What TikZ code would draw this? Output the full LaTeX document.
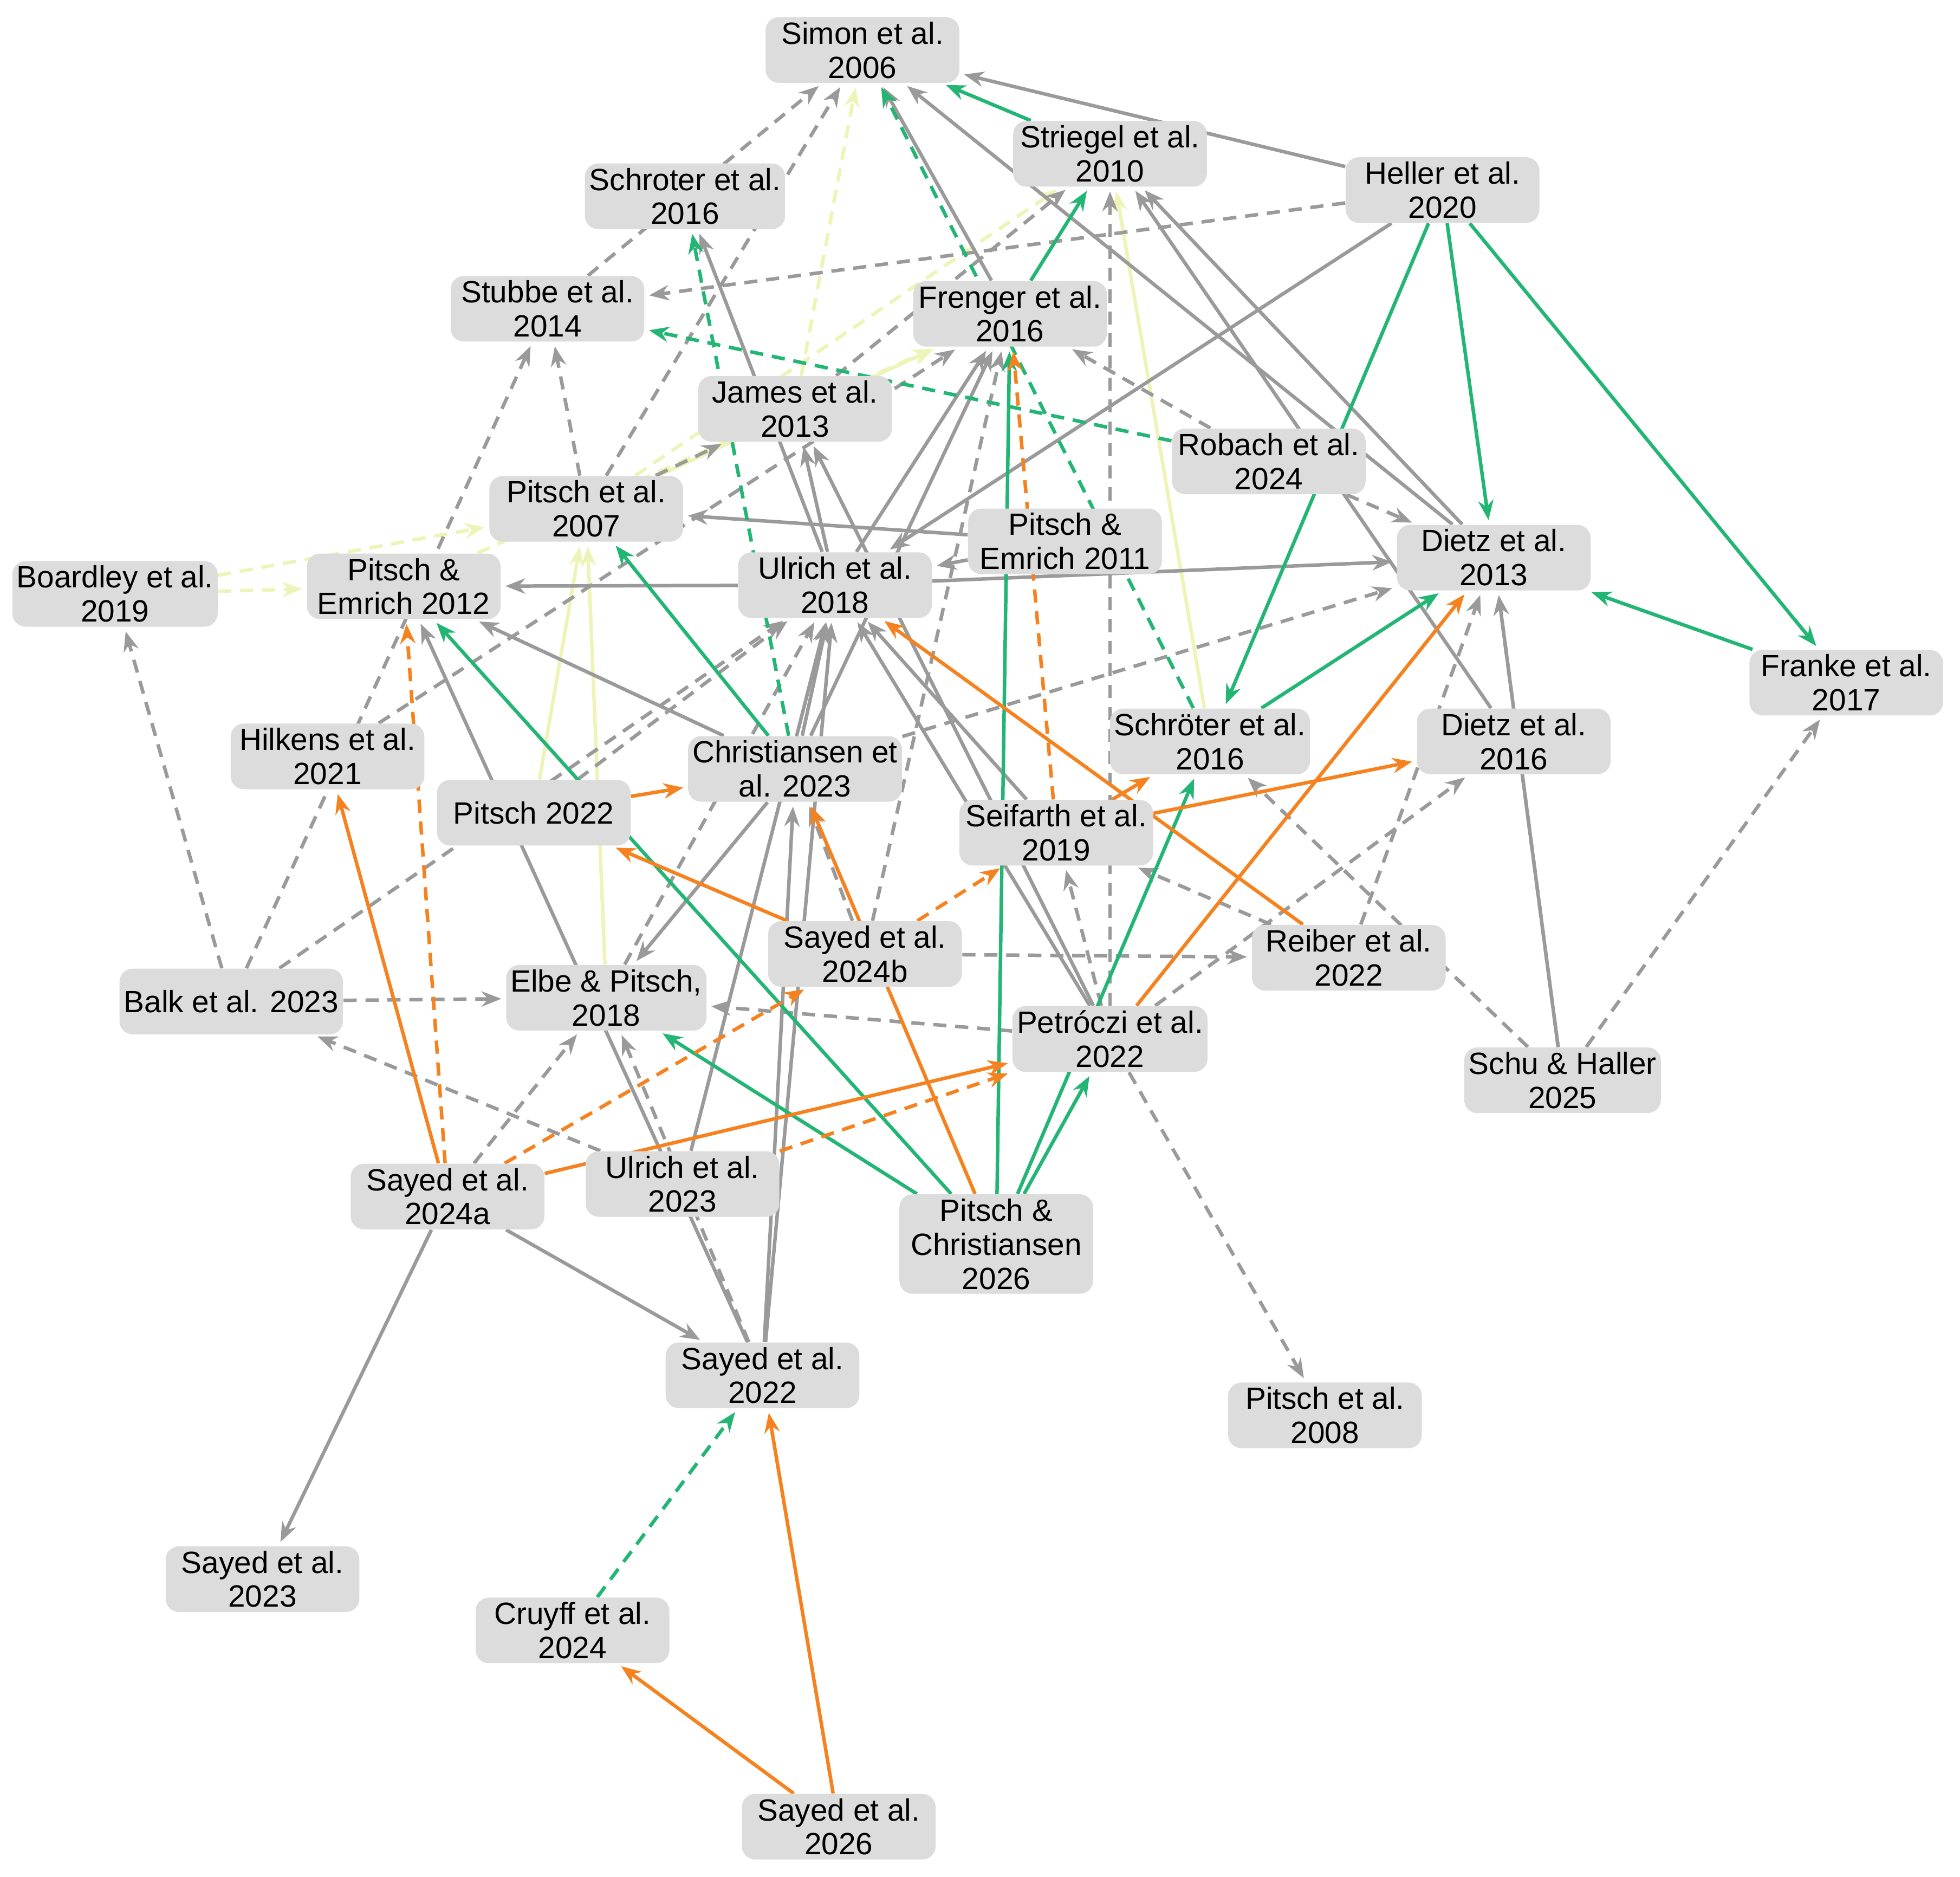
\documentclass[tikz,border=0pt]{standalone}
\usepackage{fontspec}
\setmainfont{Liberation Sans}
\usetikzlibrary{arrows.meta,backgrounds}
\definecolor{eg}{HTML}{9A9A9A}
\definecolor{en}{HTML}{22B573}
\definecolor{eo}{HTML}{F5821F}
\definecolor{ey}{HTML}{EEF4B8}
\definecolor{nf}{HTML}{DCDCDC}
\tikzset{
 paper/.style={fill=nf,rounded corners=6pt,minimum width=3.1cm,minimum height=1.05cm,align=center,inner sep=2pt,font=\fontsize{14}{15.5}\selectfont},
 ed/.style={line width=1.6pt,-{Stealth[length=9pt,width=7pt]},shorten >=2pt},
 G/.style={ed,eg}, GD/.style={ed,eg,dash pattern=on 6pt off 4pt},
 N/.style={ed,en}, ND/.style={ed,en,dash pattern=on 6pt off 4pt},
 O/.style={ed,eo}, OD/.style={ed,eo,dash pattern=on 6pt off 4pt},
 Y/.style={ed,ey}, YD/.style={ed,ey,dash pattern=on 6pt off 4pt}
}
\begin{document}
\begin{tikzpicture}[x=0.02cm,y=-0.02cm]
\useasboundingbox (0,0) rectangle (1568,1501);
\node[paper] (simon) at (690,40) {Simon et al.\\2006};
\node[paper] (striegel) at (888,123) {Striegel et al.\\2010};
\node[paper] (heller) at (1154,152) {Heller et al.\\2020};
\node[paper] (schroter) at (548,157) {Schroter et al.\\2016};
\node[paper] (stubbe) at (438,247) {Stubbe et al.\\2014};
\node[paper] (frenger) at (808,251) {Frenger et al.\\2016};
\node[paper] (james) at (636,327) {James et al.\\2013};
\node[paper] (robach) at (1015,369) {Robach et al.\\2024};
\node[paper] (pitsch07) at (469,407) {Pitsch et al.\\2007};
\node[paper] (pe11) at (852,433) {Pitsch \&\\Emrich 2011};
\node[paper] (dietz13) at (1195,446) {Dietz et al.\\2013};
\node[paper] (boardley) at (92,475) {Boardley et al.\\2019};
\node[paper] (pe12) at (323,469) {Pitsch \&\\Emrich 2012};
\node[paper] (ulrich18) at (668,468) {Ulrich et al.\\2018};
\node[paper] (franke) at (1477,546) {Franke et al.\\2017};
\node[paper] (schroeter) at (968,593) {Schröter et al.\\2016};
\node[paper] (dietz16) at (1211,593) {Dietz et al.\\2016};
\node[paper] (hilkens) at (262,605) {Hilkens et al.\\2021};
\node[paper] (christ) at (636,615) {Christiansen et\\al. 2023};
\node[paper] (pitsch22) at (427,650) {Pitsch 2022};
\node[paper] (seifarth) at (845,666) {Seifarth et al.\\2019};
\node[paper] (sayed24b) at (692,763) {Sayed et al.\\2024b};
\node[paper] (reiber) at (1079,766) {Reiber et al.\\2022};
\node[paper] (balk) at (185,801) {Balk et al. 2023};
\node[paper] (elbe) at (485,798) {Elbe \& Pitsch,\\2018};
\node[paper] (petroczi) at (888,831) {Petróczi et al.\\2022};
\node[paper] (schu) at (1250,864) {Schu \& Haller\\2025};
\node[paper] (sayed24a) at (358,957) {Sayed et al.\\2024a};
\node[paper] (ulrich23) at (546,947) {Ulrich et al.\\2023};
\node[paper,minimum height=1.4cm] (pc26) at (797,995) {Pitsch \&\\Christiansen\\2026};
\node[paper] (sayed22) at (610,1100) {Sayed et al.\\2022};
\node[paper] (pitsch08) at (1060,1132) {Pitsch et al.\\2008};
\node[paper] (sayed23) at (210,1263) {Sayed et al.\\2023};
\node[paper] (cruyff) at (458,1304) {Cruyff et al.\\2024};
\node[paper] (sayed26) at (671,1461) {Sayed et al.\\2026};
\begin{scope}[on background layer]
\draw[YD] (james) -- (simon);
\draw[Y] (pitsch07) -- (frenger);
\draw[YD] (pe12) -- (frenger);
\draw[YD] (boardley) -- (pe12);
\draw[YD] (boardley) -- (pitsch07);
\draw[Y] (elbe) -- (pitsch07);
\draw[Y] (pitsch22) -- (pitsch07);
\draw[Y] (schroeter) -- (striegel);
\draw[YD] (pitsch07) -- (striegel);
\draw[G] (heller) -- (simon);
\draw[GD] (heller) -- (stubbe);
\draw[G] (heller) -- (ulrich18);
\draw[G] (dietz13) -- (simon);
\draw[G] (dietz13) -- (striegel);
\draw[G] (dietz16) -- (striegel);
\draw[GD] (schu) -- (franke);
\draw[GD] (schu) -- (dietz13);
\draw[G] (schu) -- (dietz13);
\draw[GD] (schu) -- (schroeter);
\draw[GD] (reiber) -- (seifarth);
\draw[GD] (reiber) -- (dietz13);
\draw[GD] (petroczi) -- (dietz16);
\draw[GD] (petroczi) -- (pitsch08);
\draw[GD] (petroczi) -- (elbe);
\draw[GD] (petroczi) -- (seifarth);
\draw[GD] (petroczi) -- (striegel);
\draw[G] (petroczi) -- (ulrich18);
\draw[G] (petroczi) -- (james);
\draw[GD] (robach) -- (dietz13);
\draw[GD] (robach) -- (frenger);
\draw[G] (frenger) -- (simon);
\draw[G] (pe11) -- (pitsch07);
\draw[G] (pe11) -- (ulrich18);
\draw[G] (ulrich18) -- (dietz13);
\draw[G] (ulrich18) -- (frenger);
\draw[G] (ulrich18) -- (pe12);
\draw[G] (ulrich18) -- (schroter);
\draw[G] (ulrich18) -- (james);
\draw[G] (seifarth) -- (ulrich18);
\draw[G] (christ) -- (pe12);
\draw[G] (christ) -- (ulrich18);
\draw[GD] (christ) -- (dietz13);
\draw[G] (christ) -- (elbe);
\draw[G] (christ) -- (frenger);
\draw[G] (sayed24a) -- (sayed22);
\draw[G] (sayed24a) -- (sayed23);
\draw[GD] (sayed24a) -- (elbe);
\draw[GD] (ulrich23) -- (balk);
\draw[G] (ulrich23) -- (ulrich18);
\draw[G] (sayed22) -- (ulrich18);
\draw[G] (sayed22) -- (christ);
\draw[GD] (sayed22) -- (elbe);
\draw[G] (sayed22) -- (pe12);
\draw[GD] (balk) -- (boardley);
\draw[GD] (balk) -- (elbe);
\draw[GD] (balk) -- (stubbe);
\draw[GD] (balk) -- (ulrich18);
\draw[GD] (hilkens) -- (frenger);
\draw[GD] (elbe) -- (ulrich18);
\draw[GD] (pitsch22) -- (ulrich18);
\draw[GD] (sayed24b) -- (reiber);
\draw[GD] (sayed24b) -- (frenger);
\draw[GD] (sayed24b) -- (christ);
\draw[GD] (pitsch07) -- (stubbe);
\draw[GD] (pitsch07) -- (james);
\draw[GD] (pitsch07) -- (simon);
\draw[GD] (james) -- (striegel);
\draw[GD] (stubbe) -- (simon);
\draw[N] (striegel) -- (simon);
\draw[N] (heller) -- (dietz13);
\draw[N] (heller) -- (franke);
\draw[N] (heller) -- (schroeter);
\draw[N] (franke) -- (dietz13);
\draw[N] (pc26) -- (petroczi);
\draw[N] (pc26) -- (schroeter);
\draw[N] (pc26) -- (frenger);
\draw[N] (pc26) -- (pe12);
\draw[N] (pc26) -- (elbe);
\draw[N] (schroeter) -- (dietz13);
\draw[ND] (robach) -- (stubbe);
\draw[N] (frenger) -- (striegel);
\draw[ND] (schroeter) -- (simon);
\draw[N] (christ) -- (pitsch07);
\draw[ND] (christ) -- (schroter);
\draw[ND] (cruyff) -- (sayed22);
\draw[O] (reiber) -- (ulrich18);
\draw[O] (petroczi) -- (dietz13);
\draw[O] (pc26) -- (christ);
\draw[O] (pitsch22) -- (christ);
\draw[O] (sayed24b) -- (pitsch22);
\draw[O] (seifarth) -- (dietz16);
\draw[O] (seifarth) -- (schroeter);
\draw[OD] (seifarth) -- (frenger);
\draw[O] (sayed24a) -- (hilkens);
\draw[OD] (sayed24a) -- (pe12);
\draw[O] (sayed24a) -- (petroczi);
\draw[OD] (sayed24a) -- (sayed24b);
\draw[OD] (ulrich23) -- (petroczi);
\draw[OD] (sayed24b) -- (seifarth);
\draw[O] (sayed26) -- (cruyff);
\draw[O] (sayed26) -- (sayed22);
\end{scope}
\end{tikzpicture}
\end{document}
